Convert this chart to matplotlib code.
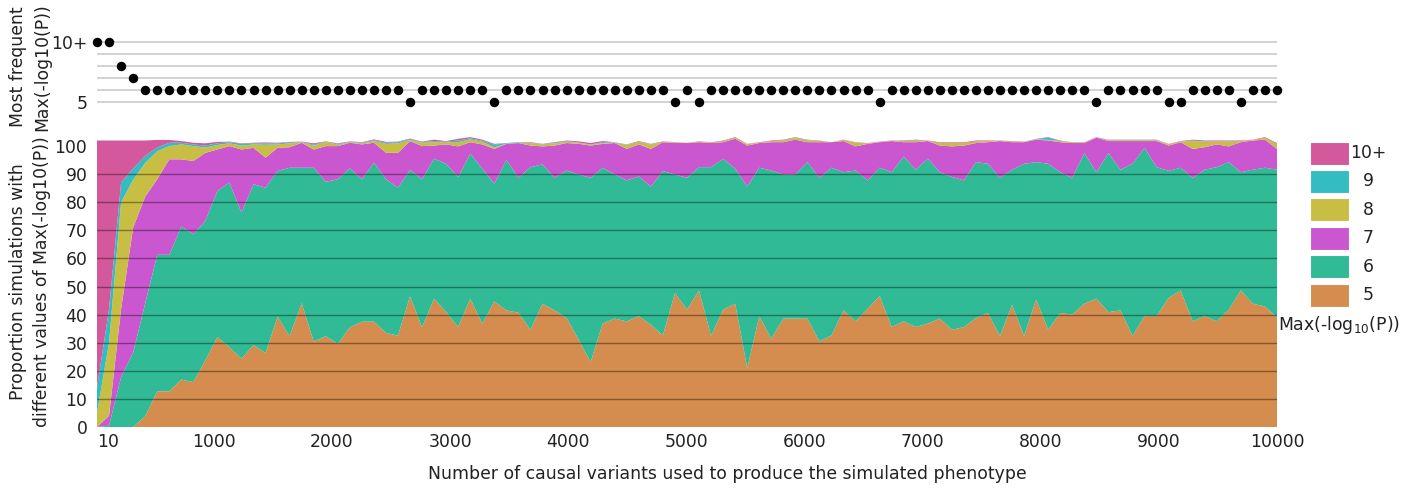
import matplotlib
matplotlib.use("Agg")
import matplotlib.pyplot as plt
from matplotlib.patches import Rectangle

plt.rcParams["font.family"] = ["DejaVu Sans"]
plt.rcParams["mathtext.fontset"] = "dejavusans"

# ---------------- data ----------------
# number of causal variants (99 evenly spaced simulation settings, 10 .. 10000)
n_variants = [round(10 + i * 9990 / 98) for i in range(99)]

# most frequent Max(-log10(P)) per setting (10 means "10+")
most_frequent = [
    10, 10, 8, 7, 6, 6, 6, 6, 6, 6, 6, 6, 6, 6, 6, 6, 6, 6, 6, 6,
    6, 6, 6, 6, 6, 6, 5, 6, 6, 6, 6, 6, 6, 5, 6, 6, 6, 6, 6, 6,
    6, 6, 6, 6, 6, 6, 6, 6, 5, 6, 5, 6, 6, 6, 6, 6, 6, 6, 6, 6,
    6, 6, 6, 6, 6, 5, 6, 6, 6, 6, 6, 6, 6, 6, 6, 6, 6, 6, 6, 6,
    6, 6, 6, 5, 6, 6, 6, 6, 6, 5, 5, 6, 6, 6, 6, 5, 6, 6, 6,
]

# proportion (%) of simulations per Max(-log10(P)) class
pct_5 = [
    0, 0, 0, 0, 3.8, 12.7, 12.7, 16.9, 16.0, 23.7, 32.0,
    28.4, 24.3, 29.2, 26.3, 39.3, 32.3, 44.1, 30.4, 32.3, 29.6, 35.5, 37.5, 37.5, 33.5, 32.5, 46.5, 35.5,
    45.7, 40.9, 35.6, 45.7, 36.8, 44.7, 41.5, 40.7, 34.6, 43.9, 41.5, 38.8, 31.1, 23.1, 36.8, 38.6, 37.6, 39.5,
    36.4, 32.6, 47.7, 41.8, 48.6, 32.4, 41.8, 43.9, 21.0, 39.4, 31.4, 38.6, 38.6, 38.6, 30.5, 32.6, 41.5, 37.6,
    42.1, 46.6, 35.6, 37.6, 35.6, 36.8, 38.6, 34.6, 35.6, 38.8, 40.6, 32.4, 43.5, 32.4, 45.4, 34.6, 40.6, 40.0,
    43.9, 45.7, 40.9, 41.5, 32.4, 39.5, 39.5, 46.0, 48.6, 37.6, 39.5, 37.6, 41.8, 48.6, 43.9, 42.9, 39.0,
]
pct_6 = [
    0, 0.5, 17.8, 26.5, 40.2, 48.6, 48.6, 54.5, 52.6, 49.7, 52.0,
    58.6, 52.0, 57.2, 58.9, 51.8, 60.0, 48.2, 61.9, 55.0, 58.6, 56.6, 50.7, 56.6, 54.7, 52.7, 45.0, 52.7,
    49.8, 52.8, 53.4, 51.6, 55.2, 41.9, 53.6, 48.0, 57.9, 49.6, 47.2, 52.5, 58.8, 65.6, 55.5, 51.3, 50.2, 49.7,
    49.2, 58.5, 42.2, 46.9, 43.9, 60.1, 53.7, 48.1, 64.6, 52.9, 59.9, 51.3, 51.3, 55.7, 58.2, 59.7, 49.2, 53.7,
    45.7, 45.7, 55.1, 58.7, 56.0, 58.7, 52.1, 54.4, 52.2, 55.5, 53.1, 56.3, 48.1, 61.3, 48.9, 59.1, 50.1, 48.7,
    53.6, 45.0, 56.6, 50.1, 61.3, 59.9, 53.0, 45.2, 43.7, 51.1, 52.1, 54.9, 52.5, 42.1, 47.7, 49.4, 52.6,
]
pct_7 = [
    0, 3.5, 24.2, 44.5, 38.0, 26.9, 34.0, 23.9, 26.1, 24.2, 14.8,
    13.0, 22.5, 13.0, 10.7, 8.3, 7.3, 8.9, 6.5, 12.7, 11.8, 9.1, 12.4, 7.1, 9.4, 12.4, 10.3, 11.8,
    4.7, 6.9, 10.9, 4.1, 8.6, 12.4, 5.7, 12.4, 7.7, 6.4, 11.5, 9.8, 10.9, 11.5, 8.5, 11.2, 11.2, 11.4,
    13.4, 10.3, 11.2, 12.4, 8.9, 8.6, 5.9, 10.6, 14.6, 8.8, 10.1, 11.5, 12.4, 7.1, 12.7, 9.1, 11.1, 8.6,
    13.0, 9.1, 11.1, 5.1, 9.8, 6.3, 9.5, 10.9, 12.4, 6.8, 7.7, 13.1, 9.8, 7.7, 8.0, 8.3, 10.7, 12.4,
    3.6, 12.3, 4.3, 10.2, 8.1, 2.4, 9.3, 9.0, 9.1, 10.3, 8.0, 8.1, 5.6, 10.7, 10.4, 10.0, 7.4,
]
pct_8 = [
    5, 26, 38, 17, 12, 10, 4.7, 5.3, 5.3, 1.9, 1.6,
    1.0, 1.4, 1.2, 4.6, 1.2, 1.4, 0.2, 1.4, 1.5, 0.5, 0.3, 0.4, 0.6, 3.2, 3.4, 0.4, 1.2,
    1.2, 0.8, 1.5, 1.0, 1.0, 0.6, 0.1, 0.1, 0.9, 0.7, 0.8, 0.5, 0.4, 0.3, 0.3, 0.2, 1.4, 0.9,
    1.6, 0.2, 0.2, 0.1, 0.2, 0.2, 0.4, 0.4, 0.5, 0.2, 0.4, 0.6, 0.7, 0.7, 0.5, 0.0, 0.4, 1.3,
    0.2, 0.1, 0.1, 0.4, 0.6, 0.1, 1.0, 1.3, 1.0, 0.6, 0.4, 0.1, 0.3, 0.1, 0.2, 0.2, 0.4, 0.3,
    0.2, 0.1, 0.3, 0.3, 0.3, 0.3, 0.3, 0.5, 0.3, 2.8, 2.0, 1.1, 1.8, 0.4, 0.2, 0.7, 1.7,
]
pct_9 = [
    9, 12, 7, 4, 2.5, 1.3, 1.2, 0.6, 0.6, 0.7, 0.6,
    0.4, 0.6, 0.4, 0.5, 0.4, 0.3, 0.1, 0.4, 0.1, 0.3, 0.1, 0.2, 0.3, 0.4, 0.4, 0.3, 0.2,
    0.4, 0.2, 0.6, 0.4, 0.3, 0.9, 0.2, 0.2, 0.1, 0.1, 0.2, 0.2, 0.1, 0.1, 0.3, 0.1, 0.1, 0.1,
    0.1, 0.0, 0.0, 0.0, 0.0, 0.0, 0.0, 0.0, 0.0, 0.0, 0.0, 0.1, 0.1, 0.1, 0.0, 0.0, 0.0, 0.1,
    0.0, 0.0, 0.0, 0.0, 0.1, 0.0, 0.0, 0.0, 0.0, 0.0, 0.0, 0.0, 0.0, 0.0, 0.1, 0.8, 0.1, 0.0,
    0.0, 0.0, 0.1, 0.1, 0.1, 0.1, 0.1, 0.0, 0.0, 0.2, 0.1, 0.0, 0.1, 0.0, 0.0, 0.0, 0.1,
]
pct_10plus = [
    88, 60, 15, 10, 5.5, 2.7, 1.0, 0.6, 0.6, 0.8, 0.5,
    0.2, 0.2, 0.2, 0.3, 0.2, 0.2, 0.1, 0.4, 0.1, 0.2, 0.1, 0.2, 0.3, 0.3, 0.2, 0.2, 0.2,
    0.5, 0.2, 0.6, 0.4, 0.4, 0.3, 0.0, 0.0, 0.2, 0.1, 0.2, 0.2, 0.4, 0.5, 0.4, 0.0, 0.1, 0.2,
    0.1, 0.1, 0.1, 0.0, 0.1, 0.1, 0.2, 0.2, 0.1, 0.1, 0.2, 0.2, 0.1, 0.1, 0.1, 0.0, 0.1, 0.1,
    0.1, 0.1, 0.1, 0.2, 0.2, 0.1, 0.2, 0.2, 0.2, 0.3, 0.2, 0.1, 0.1, 0.1, 0.0, 0.2, 0.1, 0.0,
    0.1, 0.1, 0.1, 0.1, 0.1, 0.1, 0.1, 0.1, 0.1, 0.3, 0.3, 0.3, 0.2, 0.2, 0.1, 0.2, 0.3,
]

class_labels = ["5", "6", "7", "8", "9", "10+"]
class_colors = ["#D48D4F", "#30BA95", "#CB57D0", "#C8BE44", "#33BDC3", "#D4589C"]
x_ticks = [10, 1000, 2000, 3000, 4000, 5000, 6000, 7000, 8000, 9000, 10000]

# ---------------- figure ----------------
W, H = 1402, 488
fig = plt.figure(figsize=(W / 100, H / 100), dpi=100)
TXT = "#222222"
FS = 12.4

def px_axes(x0, y0, x1, y1):
    return fig.add_axes([x0 / W, 1 - y1 / H, (x1 - x0) / W, (y1 - y0) / H])

ax = px_axes(97, 136, 1277, 427)
ax_top = px_axes(97, 34, 1277, 110)

# --- stacked area ---
ax.stackplot(n_variants, pct_5, pct_6, pct_7, pct_8, pct_9, pct_10plus,
             colors=class_colors, linewidth=0, zorder=2, antialiased=True)
for v in range(10, 100, 10):
    ax.axhline(v, color="black", alpha=0.38, lw=1.0, zorder=3)
ax.set_xlim(n_variants[0], n_variants[-1])
ax.set_ylim(0, 103.6)
ax.set_yticks(range(0, 101, 10))
ax.set_xticks(x_ticks)
ax.set_xticklabels([str(t) for t in x_ticks])
ax.get_xticklabels()[0].set_horizontalalignment("left")
for s in ax.spines.values():
    s.set_visible(False)
ax.tick_params(axis="both", length=0, labelsize=FS, colors=TXT)
ax.tick_params(axis="x", pad=4)
ax.tick_params(axis="y", pad=7)
ax.set_facecolor("none")

# --- top dot panel ---
for v in range(5, 11):
    ax_top.axhline(v, color="#cfcfcf", lw=1.3, zorder=1)
ax_top.plot(n_variants, most_frequent, "o", color="black", ms=5.8,
            zorder=3, clip_on=False)
ax_top.set_xlim(n_variants[0], n_variants[-1])
ax_top.set_ylim(4.33, 10.67)
ax_top.set_yticks([5, 10])
ax_top.set_yticklabels(["5", "10+"])
ax_top.set_xticks([])
for s in ax_top.spines.values():
    s.set_visible(False)
ax_top.tick_params(axis="y", length=0, labelsize=FS, colors=TXT, pad=7)
ax_top.set_facecolor("none")

# --- axis titles ---
fig.text(30 / W, 1 - 282 / H,
         "Proportion simulations with\ndifferent values of Max(-log10(P))",
         rotation=90, ha="center", va="center", multialignment="center",
         fontsize=FS, color=TXT, linespacing=1.4)
fig.text(30 / W, 1 - 67 / H, "Most frequent\nMax(-log10(P))",
         rotation=90, ha="center", va="center", multialignment="center",
         fontsize=FS, color=TXT, linespacing=1.4)
fig.text(727 / W, 1 - 474 / H,
         "Number of causal variants used to produce the simulated phenotype",
         ha="center", va="center", fontsize=FS, color=TXT)

# --- legend (top class first) ---
for k, (lab, col) in enumerate(zip(class_labels[::-1], class_colors[::-1])):
    yc = 153 + 28.4 * k
    fig.patches.append(Rectangle(((1310) / W, 1 - (yc + 11.5) / H), 39 / W, 23 / H,
                                 transform=fig.transFigure, facecolor=col,
                                 edgecolor="white", lw=0.8, alpha=1.0))
    fig.text(1368 / W, 1 - yc / H, lab, ha="center", va="center",
             fontsize=FS, color=TXT)
fig.text(1339 / W, 1 - 325 / H, r"Max(-log$_{10}$(P))", ha="center",
         va="center", fontsize=FS, color=TXT)

fig.savefig("out.png", dpi=100)
